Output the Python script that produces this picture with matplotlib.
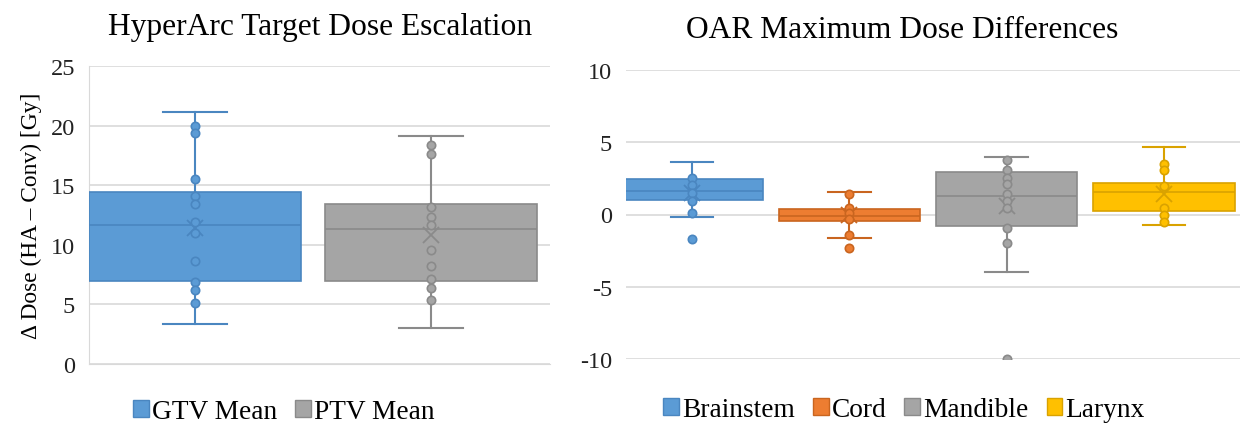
import numpy as np
import matplotlib
matplotlib.use("Agg")
import matplotlib.pyplot as plt
from matplotlib.patches import Patch

plt.rcParams['font.family'] = ['Liberation Serif', 'DejaVu Serif']

# left panel: target dose escalation (Gy)
tgt_names = ['GTV Mean', 'PTV Mean']
tgt_whislo = [3.35, 3.04]
tgt_q1 = [6.93, 6.93]
tgt_med = [11.68, 11.29]
tgt_q3 = [14.4, 13.41]
tgt_whishi = [21.1, 19.13]
tgt_mean = [11.4, 10.8]
tgt_points = [
    [20.0, 19.4, 15.5, 14.1, 13.4, 11.9, 11.0, 8.6, 6.9, 6.2, 5.1],
    [18.4, 17.6, 13.2, 12.3, 11.65, 9.6, 8.2, 7.1, 6.4, 5.4],
]

# right panel: OAR maximum dose differences (Gy)
oar_names = ['Brainstem', 'Cord', 'Mandible', 'Larynx']
oar_whislo = [-0.14, -1.64, -3.99, -0.72]
oar_q1 = [1.01, -0.46, -0.83, 0.21]
oar_med = [1.63, -0.10, 1.29, 1.57]
oar_q3 = [2.44, 0.41, 2.97, 2.16]
oar_whishi = [3.6, 1.59, 4.01, 4.65]
oar_mean = [1.5, 0.0, 0.6, 1.4]
oar_points = [
    [2.56, 2.05, 1.52, 0.94, 0.09, -1.71],
    [1.40, 0.48, 0.09, -0.28, -1.43, -2.35],
    [3.75, 3.06, 2.56, 2.1, 1.45, 0.94, 0.44, -0.9, -1.96, -10.0],
    [3.52, 3.06, 1.94, 0.48, -0.03, -0.55],
]

tgt_ticks = [0, 5, 10, 15, 20, 25]
oar_ticks = [-10, -5, 0, 5, 10]

fills = ['#5B9BD5', '#ED7D31', '#A5A5A5', '#FFC000']
edges = ['#4A86C0', '#C9651F', '#8A8A8A', '#D9A200']
grid_c = '#D9D9D9'


def draw_boxes(ax, names, lo, q1, med, q3, hi, mean, points, fcols, ecols):
    for i in range(len(names)):
        st = [dict(whislo=lo[i], q1=q1[i], med=med[i], q3=q3[i],
                   whishi=hi[i], mean=mean[i], fliers=[], label=names[i])]
        ec = ecols[i]
        ax.bxp(st, positions=[i], widths=0.9, patch_artist=True,
               showmeans=True, showfliers=False,
               boxprops=dict(facecolor=fcols[i], edgecolor=ec, linewidth=1.2),
               medianprops=dict(color=ec, linewidth=1.2),
               whiskerprops=dict(color=ec, linewidth=1.5),
               capprops=dict(color=ec, linewidth=1.5),
               capwidths=0.27,
               meanprops=dict(marker='x', markeredgecolor=ec,
                              markersize=11, markeredgewidth=1.3),
               zorder=3)
        ax.plot(np.full(len(points[i]), i), points[i], 'o', ls='none',
                markersize=6, markerfacecolor=fcols[i], markeredgecolor=ec,
                markeredgewidth=1.2, zorder=4)


fig = plt.figure(figsize=(12.42, 4.27), dpi=100)

leg_kw = dict(loc='center', bbox_transform=fig.transFigure, frameon=False,
              fontsize=19.7, handlelength=0.58, handleheight=0.58,
              handletextpad=0.12, columnspacing=0.65)

ax1 = fig.add_axes([89 / 1242, 1 - 365 / 427, 461 / 1242, 298 / 427])
draw_boxes(ax1, tgt_names, tgt_whislo, tgt_q1, tgt_med, tgt_q3, tgt_whishi,
           tgt_mean, tgt_points, [fills[0], fills[2]], [edges[0], edges[2]])
ax1.set_xlim(-0.449, 1.504)
ax1.set_ylim(0, 25)
ax1.set_yticks(tgt_ticks)
ax1.set_yticklabels([str(t) for t in tgt_ticks])
ax1.set_xticks([])
ax1.set_ylabel('\u0394 Dose (HA \u2013 Conv) [Gy]', fontsize=16.8, labelpad=6)
fig.text(320 / 1242, 1 - 28 / 427, 'HyperArc Target Dose Escalation',
         fontsize=22.7, ha='center', va='center')
ax1.legend(handles=[Patch(facecolor=fills[0], edgecolor=edges[0], label=tgt_names[0]),
                    Patch(facecolor=fills[2], edgecolor=edges[2], label=tgt_names[1])],
           bbox_to_anchor=(284 / 1242, 1 - 413 / 427), ncol=2, **leg_kw)

ax2 = fig.add_axes([626 / 1242, 1 - 360 / 427, 614 / 1242, 289 / 427])
draw_boxes(ax2, oar_names, oar_whislo, oar_q1, oar_med, oar_q3, oar_whishi,
           oar_mean, oar_points, fills, edges)
ax2.set_xlim(-0.42, 3.483)
ax2.set_ylim(-10, 10)
ax2.set_yticks(oar_ticks)
ax2.set_yticklabels([str(t) for t in oar_ticks])
ax2.set_xticks([])
fig.text(902 / 1242, 1 - 31 / 427, 'OAR Maximum Dose Differences',
         fontsize=22.7, ha='center', va='center')
ax2.legend(handles=[Patch(facecolor=fills[i], edgecolor=edges[i], label=oar_names[i])
                    for i in range(4)],
           bbox_to_anchor=(904 / 1242, 1 - 411 / 427), ncol=4, **leg_kw)

for ax in (ax1, ax2):
    ax.yaxis.grid(True, color=grid_c, linewidth=1.2, zorder=0)
    ax.set_axisbelow(True)
    ax.tick_params(axis='y', length=0, labelsize=17.5, pad=10, colors='#222222')
    for sp in ax.spines.values():
        sp.set_visible(False)

ax1.spines['left'].set_visible(True)
ax1.spines['left'].set_color(grid_c)
ax1.spines['bottom'].set_visible(True)
ax1.spines['bottom'].set_color(grid_c)

fig.savefig('out.png', dpi=100)
